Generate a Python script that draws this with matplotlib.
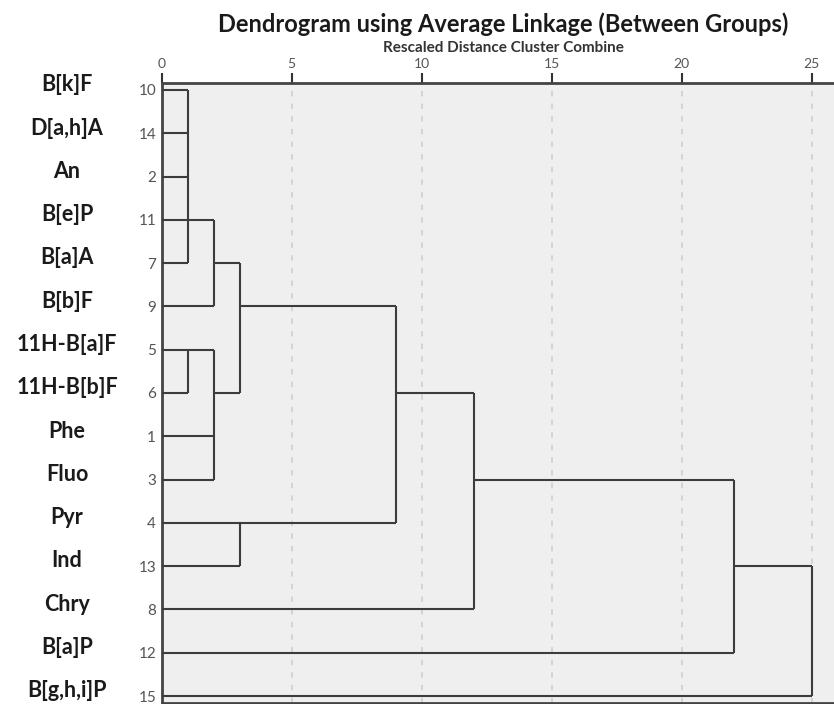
import matplotlib
matplotlib.use("Agg")
import matplotlib.pyplot as plt
import matplotlib.transforms as mtransforms

# ---------------- data ----------------
leaf_labels = ["B[k]F", "D[a,h]A", "An", "B[e]P", "B[a]A", "B[b]F",
               "11H-B[a]F", "11H-B[b]F", "Phe", "Fluo", "Pyr", "Ind",
               "Chry", "B[a]P", "B[g,h,i]P"]
leaf_ids = [10, 14, 2, 11, 7, 9, 5, 6, 1, 3, 4, 13, 8, 12, 15]

# merges: node ids 1..15 are leaves, 16.. are merges in this order
merge_children = [[10, 14, 2, 11, 7], [5, 6], [16, 9], [17, 1, 3], [18, 19],
                  [4, 13], [20, 21], [22, 8], [23, 12], [24, 15]]
merge_heights = [1, 1, 2, 2, 3, 3, 9, 12, 22, 25]
merge_out_leaf = [11, 5, 7, 6, 9, 4, 6, 3, 13, None]

x_ticks = [0, 5, 10, 15, 20, 25]

title = "Dendrogram using Average Linkage (Between Groups)"
subtitle = "Rescaled Distance Cluster Combine"

# ---------------- plot ----------------
plt.rcParams['font.family'] = ['Lato', 'DejaVu Sans']

W, H = 834, 704
fig = plt.figure(figsize=(W / 100, H / 100), dpi=100)
ax = fig.add_axes([161.7 / W, 1 - 703 / H, (W - 161.7) / W, (703 - 83) / H])
ax.set_facecolor('#efefef')

row_of_leaf = {lid: i for i, lid in enumerate(leaf_ids)}
n_leaves = 15


def node_row(node):
    if node <= n_leaves:
        return row_of_leaf[node]
    return row_of_leaf[merge_out_leaf[node - n_leaves - 1]]


def node_start(node):
    if node <= n_leaves:
        return 0
    return merge_heights[node - n_leaves - 1]


line_kw = dict(color='#3c3c3c', lw=1.5, solid_capstyle='butt', zorder=3)
for children, h in zip(merge_children, merge_heights):
    rows = []
    for c in children:
        r = node_row(c)
        rows.append(r)
        ax.plot([node_start(c), h], [r, r], **line_kw)
    ax.plot([h, h], [min(rows), max(rows)], **line_kw)

# grid
for t in x_ticks[1:]:
    ax.axvline(t, color='#d2d2d2', lw=1.3, ls=(0, (3, 4)), zorder=1)

ax.set_xlim(0, 25.86)
ax.set_ylim(14.16, -0.16)

ax.xaxis.tick_top()
ax.set_xticks(x_ticks)
ax.set_xticklabels([str(t) for t in x_ticks], fontsize=10, color='#555555')
ax.tick_params(axis='x', direction='out', length=7, width=1.5, color='#333333', pad=2)

ax.set_yticks(range(n_leaves))
ax.set_yticklabels([str(v) for v in leaf_ids], fontsize=11, color='#555555')
ax.tick_params(axis='y', length=0, pad=4)

for side in ['top', 'left', 'bottom']:
    ax.spines[side].set_color('#444444')
    ax.spines[side].set_linewidth(2)
ax.spines['right'].set_visible(False)

# leaf names
trans = mtransforms.blended_transform_factory(fig.transFigure, ax.transData)
for i, lab in enumerate(leaf_labels):
    ax.text(67 / W, i - 0.12, lab, transform=trans, ha='center', va='center',
            fontsize=15.5, fontweight='bold', color='#1a1a1a')

fig.text(503 / W, 1 - 24 / H, title, ha='center', va='center',
         fontsize=17, fontweight='bold', color='#1a1a1a')
fig.text(503 / W, 1 - 47.5 / H, subtitle, ha='center', va='center',
         fontsize=11, fontweight='bold', color='#333333')

fig.savefig('out.png', dpi=100)
